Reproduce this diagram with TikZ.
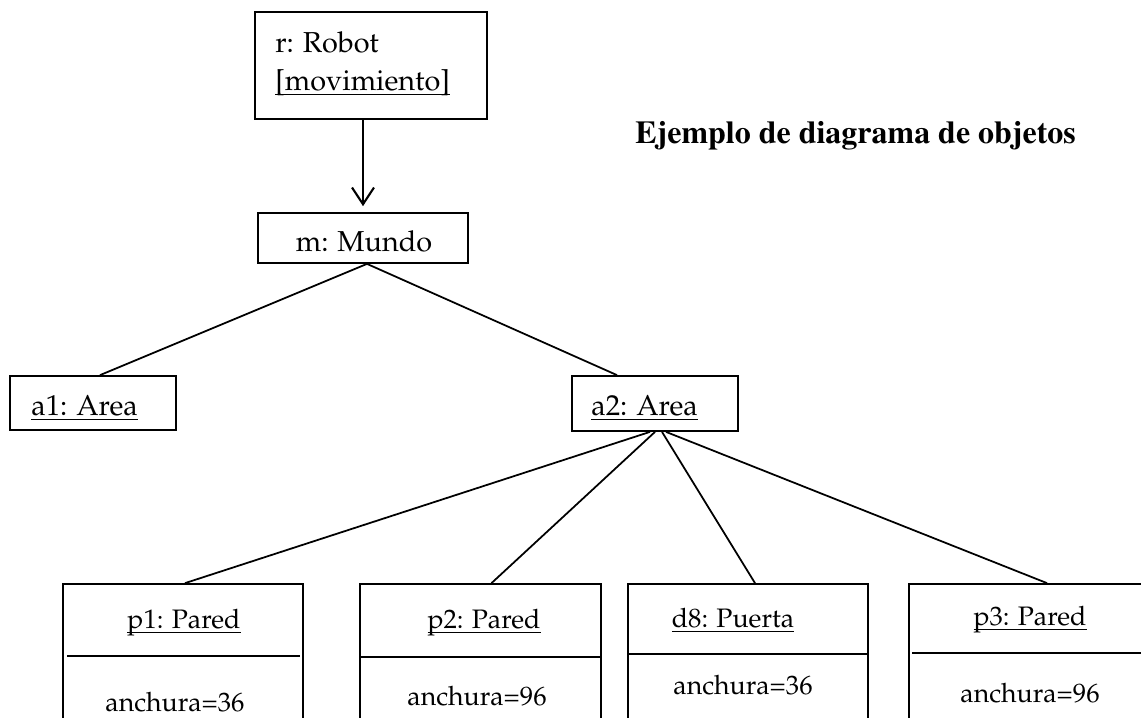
\documentclass[tikz,border=0pt]{standalone}
\usepackage[T1]{fontenc}
\renewcommand{\rmdefault}{ppl}
\usetikzlibrary{arrows.meta,calc,fit}

% underline at a fixed depth, crossing the descenders
\newcommand{\ulobj}[1]{\setbox0\hbox{#1}\rlap{\rule[-2.8pt]{\wd0}{0.8pt}}\box0}
\newcommand{\titlefont}{\fontfamily{ptm}\fontseries{b}\fontsize{18.2}{22}\selectfont}

\tikzset{
    objbox/.style={draw, line width=1pt, inner sep=0pt},
    objtext/.style={font=\fontsize{15.2}{18}\selectfont, inner sep=0pt},
    bigtext/.style={font=\fontsize{16.4}{19}\selectfont, inner sep=0pt},
    link/.style={line width=1pt},
}

\begin{document}
\begin{tikzpicture}[x=0.02cm,y=-0.02cm]
        \useasboundingbox (0,0) rectangle (1141,717);
        \clip (0,0) rectangle (1141,717);

        % draw the robot object
        \node[objbox, fit={(255,12) (487,119)}] (robot) {};
        \node[bigtext, anchor=base west] (robotname) at (275,52) {r: Robot};
        \node[bigtext, anchor=base west] (robotstate) at (275,90) {\ulobj{[movimiento]}};

        % draw the world object
        \node[objbox, fit={(258,213) (468,263)}] (mundo) {};
        \node[bigtext, anchor=base] (mundoname) at (364,251) {m: Mundo};

        % title
        \node[anchor=base west, inner sep=0pt, font=\titlefont] (titulo) at (635,143) {Ejemplo de diagrama de objetos};

        % draw the two areas
        \node[objbox, fit={(10,376) (176,430)}] (a1) {};
        \node[bigtext, anchor=base west] (a1name) at (31,415) {\ulobj{a1: Area}};
        \node[objbox, fit={(572,376) (738,431)}] (a2) {};
        \node[bigtext, anchor=base west] (a2name) at (591,415) {\ulobj{a2: Area}};

        % draw the walls and the door, bottom cut by the page
        \foreach \nm/\xl/\xr/\lbl/\xa/\ya/\val/\xb/\yb in {
            p1/63/303/p1: Pared/184/628/anchura=36/175/711,
            p2/360/601/p2: Pared/484/628/anchura=96/477/705,
            d8/628/868/d8: Puerta/733/627/anchura=36/743/694,
            p3/909/1151/p3: Pared/1030/625/anchura=96/1030/702}{
                \node[objbox, fit={(\xl,584) (\xr,760)}] (\nm) {};
                \node[objtext, anchor=base] (\nm-name) at (\xa,\ya) {\ulobj{\lbl}};
                \node[objtext, anchor=base] (\nm-attr) at (\xb,\yb) {\val};
        }

        % separators between name and attributes
        \draw[link, line width=1.3pt] (67,656) -- (300,656);
        \draw[link] (360,657) -- (601,657);
        \draw[link] (628,654) -- (868,654);
        \draw[link, line width=1.3pt] (912,653) -- (1151,653);

        % draw arrow from robot to world
        \draw[link, line width=1.2pt, -{Straight Barb[length=9.5pt,width=12.5pt]}, shorten >=3.4pt] (mundo.north |- robot.south) -- (mundo.north);

        % links from world to areas
        \draw[link] ($(mundo.south)+(4,0)$) -- ($(a1.north)+(7,0)$);
        \draw[link] ($(mundo.south)+(4,0)$) -- ($(a2.north)+(-38,0)$);

        % links from a2 to its parts
        \foreach \nm/\dx/\ex in {p1/-5/2, p2/0/11, d8/7/7, p3/11/17}{
            \draw[link] ($(a2.south)+(\dx,0)$) -- ($(\nm.north)+(\ex,0)$);
        }

\end{tikzpicture}
\end{document}
